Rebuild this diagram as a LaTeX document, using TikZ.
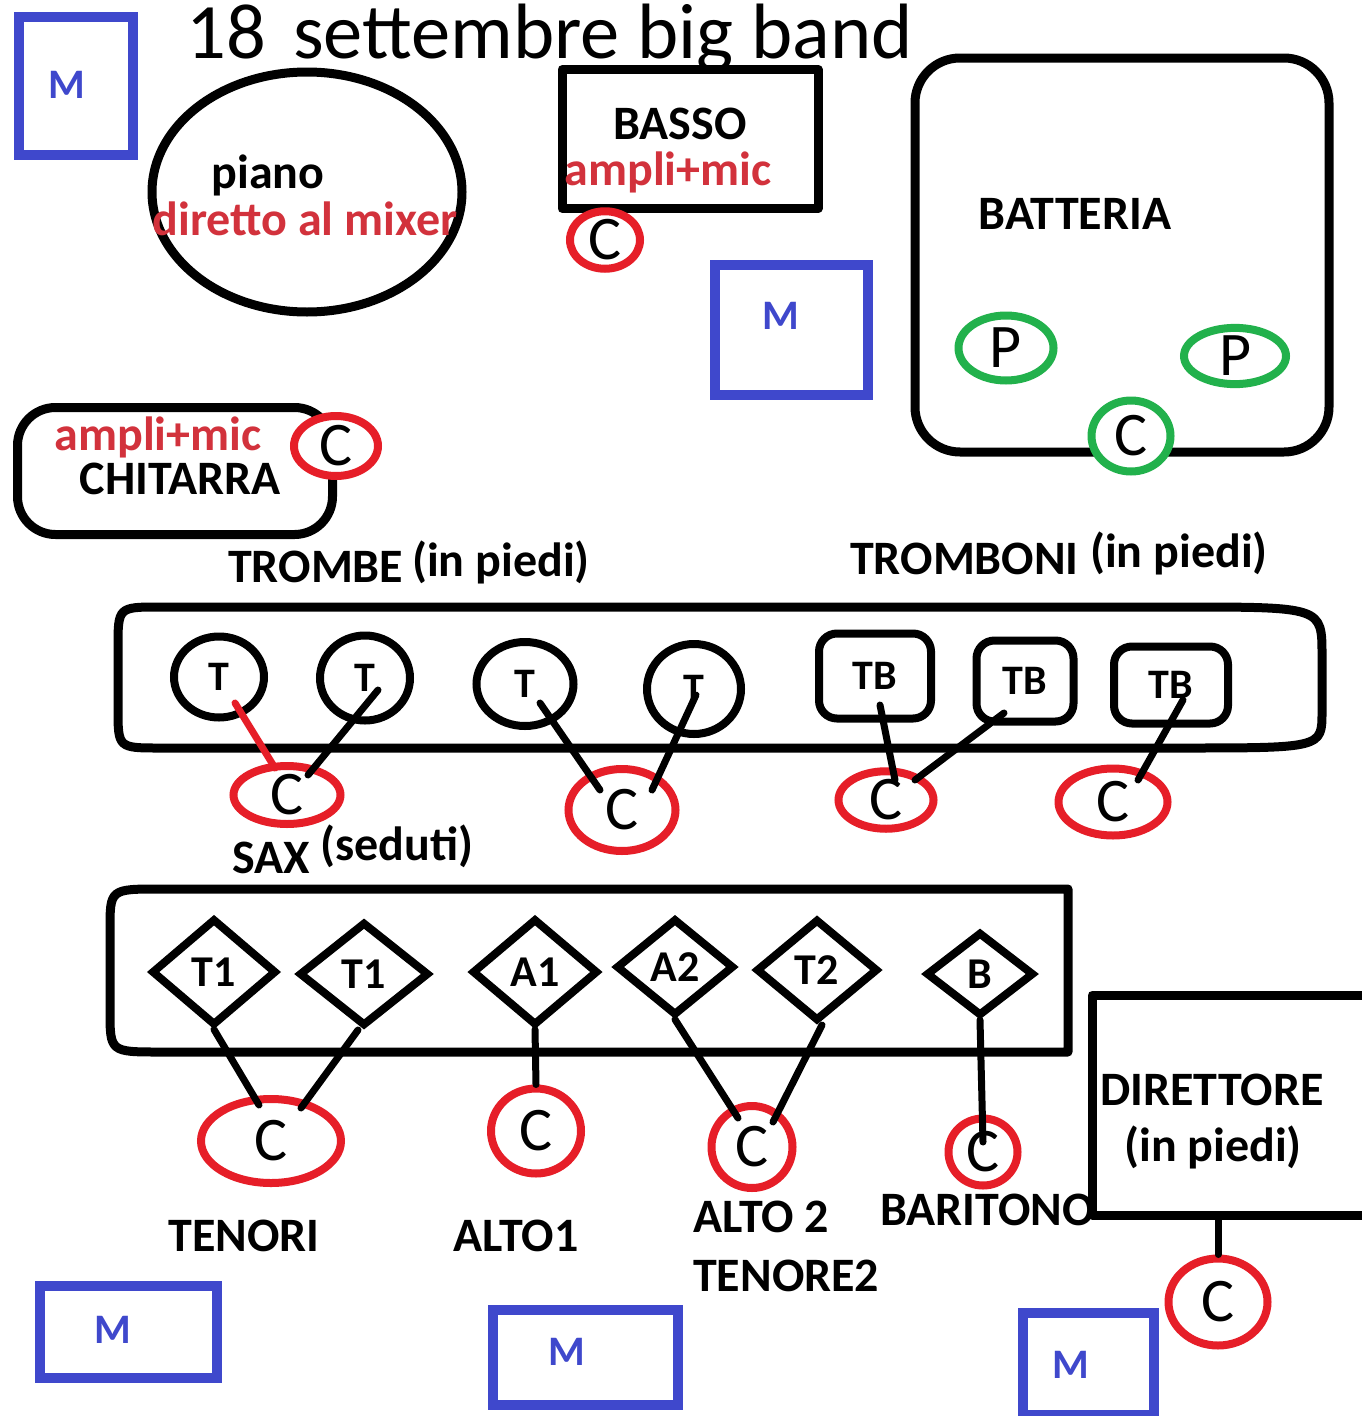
\documentclass[tikz,border=0pt]{standalone}
\usepackage{fontspec}
\setmainfont{Carlito}
\usetikzlibrary{shapes.geometric,calc}
\definecolor{mblue}{RGB}{63,72,204}
\definecolor{mred}{RGB}{230,30,40}
\definecolor{tred}{RGB}{210,50,60}
\definecolor{mgreen}{RGB}{34,177,76}
\tikzset{
  lbl/.style={inner sep=0, font=\fontsize{48}{52}\selectfont\bfseries},
  rlbl/.style={lbl, text=tred},
  mbox/.style={rectangle, draw=mblue, line width=10, inner sep=0},
  mtext/.style={inner sep=0, text=mblue, font=\fontsize{42}{42}\selectfont\bfseries},
  cmic/.style={ellipse, draw=mred, line width=8, fill=white, inner sep=0, font=\fontsize{62}{62}\selectfont},
  gmic/.style={cmic, draw=mgreen},
  tcirc/.style={ellipse, draw, line width=8, inner sep=0, font=\fontsize{42}{42}\selectfont\bfseries},
  tbbox/.style={rectangle, rounded corners=18, draw, line width=8, inner sep=0, font=\fontsize{42}{42}\selectfont\bfseries},
  sdiam/.style={diamond, draw, line width=8, inner sep=0, fill=white, font=\fontsize{44}{44}\selectfont\bfseries},
  frame/.style={draw, line width=9, line join=round},
  wire/.style={line width=7, line cap=round},
}
\begin{document}
\begin{tikzpicture}[x=1pt,y=-1pt]
\useasboundingbox[fill=white] (0,0) rectangle (1362,1416);

% title
\node[inner sep=0, anchor=base west, font=\fontsize{78.5}{80}\selectfont] (title) at (186,58) {18\hspace{0.35em}settembre big band};

% monitors
\node[mbox, minimum width=114, minimum height=138] (m1) at (76,86) {};
\node[mtext] (m1t) at (67,85) {M};
\node[mbox, minimum width=153, minimum height=130] (m2) at (791,330) {};
\node[mtext] (m2t) at (781,316) {M};
\node[mbox, minimum width=177, minimum height=92] (m3) at (128,1332) {};
\node[mtext] (m3t) at (113,1330) {M};
\node[mbox, minimum width=185, minimum height=95] (m4) at (585,1357) {};
\node[mtext] (m4t) at (567,1352) {M};
\node[mbox, minimum width=131, minimum height=102] (m5) at (1088,1364) {};
\node[mtext] (m5t) at (1071,1365) {M};

% piano
\node[ellipse, frame, minimum width=310, minimum height=240, inner sep=0] (piano) at (307,192) {};
\node[lbl] (pianot) at (268,175) {piano};
\node[rlbl] (pianod) at (305,219) {diretto al mixer};

% basso
\node[rectangle, frame, minimum width=256, minimum height=139] (basso) at (690,139) {};
\node[lbl] (bassot) at (680,124) {BASSO};
\node[rlbl] (bassoa) at (668,172) {ampli+mic};
\node[cmic, minimum width=70, minimum height=48] (cbasso) at (605,240) {C};

% batteria
\node[rectangle, frame, rounded corners=45, minimum width=414, minimum height=394] (batt) at (1122,255) {};
\node[lbl] (battt) at (1075,214) {BATTERIA};
\node[gmic, minimum width=95, minimum height=65] (p1) at (1006,348) {P};
\node[gmic, minimum width=102, minimum height=54] (p2) at (1235,356) {P};
\node[gmic, minimum width=79, minimum height=71] (cbatt) at (1131,436) {C};

% chitarra
\node[rectangle, frame, rounded corners=38, minimum width=315, minimum height=127] (chit) at (175,471) {};
\node[rlbl] (chita) at (158,437) {ampli+mic};
\node[lbl] (chitt) at (180,479) {CHITARRA};
\node[cmic, minimum width=84, minimum height=60] (cchit) at (336,446) {C};

% section titles
\node[lbl, anchor=west] (trombe) at (228,567) {TROMBE};
\node[lbl, anchor=west] (trombep) at (412,562) {(in piedi)};
\node[lbl, anchor=west] (tromboni) at (850,559) {TROMBONI};
\node[lbl, anchor=west] (tromboniP) at (1090,553) {(in piedi)};

% brass riser
\draw[frame] (160,607) -- (1180,607) .. controls (1322,607) .. (1322,655)
  -- (1322,712) .. controls (1322,748) .. (1180,748) -- (160,748)
  .. controls (118,748) .. (118,708) -- (118,648) .. controls (118,607) .. (160,607) -- cycle;

\node[tcirc, minimum width=90, minimum height=81] (t1) at (219,677) {T};
\node[tcirc, minimum width=90, minimum height=85] (t2) at (365,678) {T};
\node[tcirc, minimum width=97, minimum height=84] (t3) at (525,684) {T};
\node[tcirc, minimum width=94, minimum height=90] (t4) at (694,689) {T};
\node[tbbox, minimum width=112, minimum height=85] (tb1) at (875,676) {TB};
\node[tbbox, minimum width=97, minimum height=81] (tb2) at (1025,681) {TB};
\node[tbbox, minimum width=114, minimum height=77] (tb3) at (1171,685) {TB};

\node[cmic, minimum width=107, minimum height=58] (c1) at (287,795) {C};
\node[cmic, minimum width=107, minimum height=82] (c2) at (622,810) {C};
\node[cmic, minimum width=95, minimum height=56] (c3) at (886,800) {C};
\node[cmic, minimum width=109, minimum height=67] (c4) at (1113,802) {C};

\draw[wire, mred] ($(t1)+(16,26)$) -- ($(c1)+(-12,-27)$);
\draw[wire] ($(t2)+(13,12)$) -- ($(c1)+(21,-20)$);
\draw[wire] ($(t3)+(15,19)$) -- ($(c2)+(-22,-20)$);
\draw[wire] ($(t4)+(2,6)$) -- ($(c2)+(30,-20)$);
\draw[wire] ($(tb1)+(5,29)$) -- ($(c3)+(9,-20)$);
\draw[wire] ($(tb2)+(-21,32)$) -- ($(c3)+(29,-20)$);
\draw[wire] ($(tb3)+(12,15)$) -- ($(c4)+(25,-22)$);

% sax
\node[lbl, anchor=west] (sax) at (232,858) {SAX};
\node[lbl, anchor=west] (saxs) at (320,846) {(seduti)};

\draw[frame] (1068,889) -- (160,889) .. controls (110,889) .. (110,930)
  -- (110,1010) .. controls (110,1052) .. (160,1052) -- (1068,1052) -- cycle;

\node[sdiam, minimum width=125, minimum height=107] (s1) at (214,972) {T1};
\node[sdiam, minimum width=130, minimum height=104] (s2) at (364,974) {T1};
\node[sdiam, minimum width=126, minimum height=107] (s3) at (535,972) {A1};
\node[sdiam, minimum width=118, minimum height=97] (s4) at (675,967) {A2};
\node[sdiam, minimum width=122, minimum height=102] (s5) at (817,970) {T2};
\node[sdiam, minimum width=108, minimum height=84] (s6) at (980,974) {B};

\node[cmic, minimum width=140, minimum height=84] (cten) at (271,1141) {C};
\node[cmic, minimum width=90, minimum height=85] (ca1) at (536,1131) {C};
\node[cmic, minimum width=81, minimum height=82] (ca2) at (752,1147) {C};
\node[cmic, minimum width=69, minimum height=67] (cbar) at (983,1152) {C};

\draw[wire] (s1.south) -- ($(cten)+(-12,-36)$);
\draw[wire] ($(s2.south)+(-6,0)$) -- ($(cten)+(30,-33)$);
\draw[wire] (s3.south) -- (ca1.north);
\draw[wire] (s4.south) -- ($(ca2)+(-14,-29)$);
\draw[wire] ($(s5.south)+(5,0)$) -- ($(ca2)+(21,-25)$);
\draw[wire] (s6.south) -- ($(cbar)+(0,-10)$);

\node[lbl] (ten) at (244,1236) {TENORI};
\node[lbl] (alto1) at (516,1236) {ALTO1};
\node[lbl, anchor=west] (alto2) at (693,1217) {ALTO 2};
\node[lbl, anchor=west] (tenore2) at (693,1276) {TENORE2};
\node[lbl, anchor=west] (bari) at (880,1210) {BARITONO};

% direttore
\node[rectangle, frame, fill=white, minimum width=280, minimum height=220] (dir) at (1232,1105) {};
\node[lbl] (dirt) at (1212,1090) {DIRETTORE};
\node[lbl] (dirp) at (1213,1147) {(in piedi)};
\node[cmic, minimum width=99, minimum height=87] (cdir) at (1218,1302) {C};
\draw[wire] (cdir.north) -- (cdir.north |- dir.south);
\end{tikzpicture}
\end{document}
